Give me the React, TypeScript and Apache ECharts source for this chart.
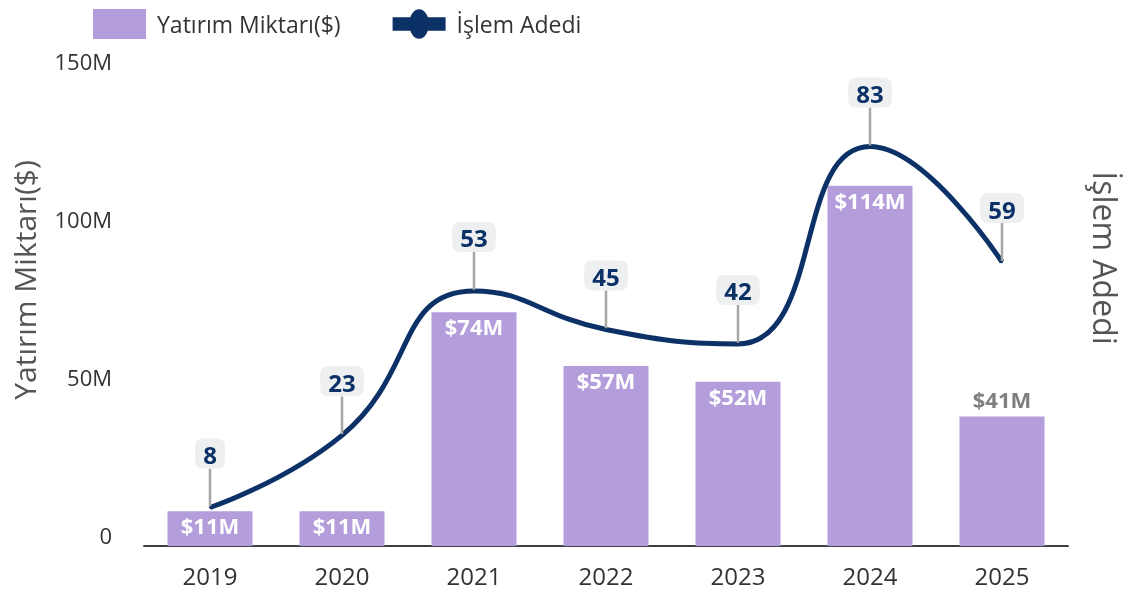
import React, { useEffect, useRef } from "react";
import * as echarts from "echarts";

const years = ["2019", "2020", "2021", "2022", "2023", "2024", "2025"];
const investment = [11, 11, 74, 57, 52, 114, 41]; // millions $
const dealCount = [8, 23, 53, 45, 42, 83, 59];
const leftTicks = [0, 50, 100, 150];

const BAR_COLOR = "#b39ddb";
const LINE_COLOR = "#0b3166";

export default function App() {
  const ref = useRef<HTMLDivElement>(null);
  useEffect(() => {
    if (!ref.current) return;
    const chart = echarts.init(ref.current, null, { renderer: "svg" });
    const legendLineIcon =
      "path://M0,8H54V22H0Z M17,15A10,15 0 1,1 37,15A10,15 0 1,1 17,15Z";
    chart.setOption({
      animation: false,
      textStyle: { fontFamily: "'Open Sans', sans-serif" },
      legend: {
        left: 88,
        top: 4,
        itemWidth: 53,
        itemHeight: 30,
        itemGap: 52,
        textStyle: {
          fontFamily: "'Open Sans', sans-serif",
          fontSize: 23,
          color: "#333",
          padding: [0, 0, 0, 6],
        },
        data: [
          { name: "Yatırım Miktarı($)", icon: "rect" },
          { name: "İşlem Adedi", icon: legendLineIcon, itemStyle: { color: LINE_COLOR } },
        ],
      },
      grid: { left: 144, right: 58, top: 72, bottom: 48 },
      xAxis: {
        type: "category",
        data: years,
        axisLine: { lineStyle: { color: "#404040", width: 2 } },
        axisTick: { show: false },
        axisLabel: { fontSize: 24, color: "#333", margin: 17 },
      },
      yAxis: [
        {
          type: "value",
          min: leftTicks[0],
          max: leftTicks[leftTicks.length - 1],
          interval: 50,
          splitLine: { show: false },
          axisLine: { show: false },
          axisTick: { show: false },
          axisLabel: {
            fontSize: 22,
            color: "#333",
            margin: 32,
            verticalAlign: "bottom",
            formatter: (v: number) => (v === 0 ? "0" : v + "M"),
          },
        },
        {
          type: "value",
          min: 0,
          max: 98.5,
          show: false,
          splitLine: { show: false },
        },
      ],
      graphic: [
        {
          type: "text",
          x: 24,
          y: 280,
          rotation: Math.PI / 2,
          style: {
            text: "Yatırım Miktarı($)",
            fontSize: 30,
            fontFamily: "'Open Sans', sans-serif",
            fill: "#555",
            align: "center",
            verticalAlign: "middle",
          },
        },
        {
          type: "text",
          x: 1105,
          y: 258,
          rotation: -Math.PI / 2,
          style: {
            text: "İşlem Adedi",
            fontSize: 32,
            fontFamily: "'Open Sans', sans-serif",
            fill: "#555",
            align: "center",
            verticalAlign: "middle",
          },
        },
      ],
      series: [
        {
          name: "Yatırım Miktarı($)",
          type: "bar",
          barWidth: 85,
          itemStyle: { color: BAR_COLOR },
          data: investment.map((v, i) => ({
            value: v,
            label:
              i === investment.length - 1
                ? { position: "top", color: "#7f7f7f", distance: 6 }
                : undefined,
          })),
          label: {
            show: true,
            position: "insideTop",
            distance: 3,
            color: "#fff",
            fontWeight: "bold",
            fontSize: 22,
            formatter: (p: any) => "$" + p.value + "M",
          },
          z: 1,
        },
        {
          name: "İşlem Adedi",
          type: "line",
          yAxisIndex: 1,
          smooth: 0.5,
          symbol: "circle",
          symbolSize: 2,
          itemStyle: { color: LINE_COLOR },
          lineStyle: { color: LINE_COLOR, width: 5 },
          data: dealCount,
          label: {
            show: true,
            position: "top",
            distance: 5,
            color: LINE_COLOR,
            fontWeight: "bold",
            fontSize: 24,
            backgroundColor: "#eeeff1",
            borderRadius: 7,
            padding: [4, 8, 2, 8],
          },
          labelLayout: { dy: -33 },
          labelLine: { show: true, lineStyle: { color: "#a6a6a6", width: 2.5 } },
          z: 3,
        },
      ],
    });
    return () => chart.dispose();
  }, []);
  return (
    <div
      ref={ref}
      style={{ position: "fixed", left: 0, top: 0, width: 1126, height: 594 }}
    />
  );
}
